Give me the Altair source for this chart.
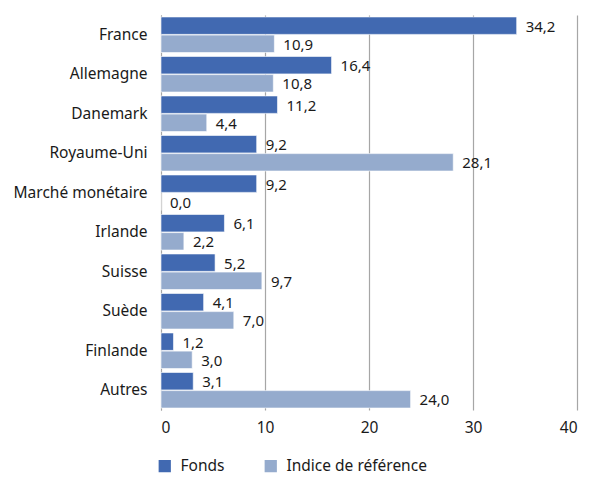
import altair as alt
import pandas as pd

categories = ["France", "Allemagne", "Danemark", "Royaume-Uni", "Marché monétaire",
              "Irlande", "Suisse", "Suède", "Finlande", "Autres"]
fonds = [34.2, 16.4, 11.2, 9.2, 9.2, 6.1, 5.2, 4.1, 1.2, 3.1]
indice = [10.9, 10.8, 4.4, 28.1, 0.0, 2.2, 9.7, 7.0, 3.0, 24.0]
series = ["Fonds", "Indice de référence"]
colors = ["#4169B1", "#95ABCD"]

rows = []
for c, f, i in zip(categories, fonds, indice):
    rows.append({"cat": c, "serie": series[0], "v": f})
    rows.append({"cat": c, "serie": series[1], "v": i})
df = pd.DataFrame(rows)

FONT = "Noto Sans"

y = alt.Y("cat:N", sort=categories, title=None,
          scale=alt.Scale(paddingInner=0.1, paddingOuter=0.05),
          axis=alt.Axis(domain=True, domainColor="#a6a6a6", ticks=False,
                        labelFontSize=15.5, labelColor="#1a1a1a", labelPadding=14,
                        labelFont=FONT))
yoff = alt.YOffset("serie:N", sort=series, scale=alt.Scale(paddingInner=0.04))

base = alt.Chart(df)

bars = base.mark_bar(stroke="white", strokeWidth=0.6).encode(
    x=alt.X("v:Q", scale=alt.Scale(domain=[0, 40]), title=None,
            axis=alt.Axis(values=[0, 10, 20, 30, 40], domain=False, ticks=False,
                          grid=True, gridColor="#a6a6a6", gridWidth=1.2,
                          labelFontSize=15.5, labelColor="#1a1a1a", labelPadding=10,
                          labelFont=FONT)),
    y=y,
    yOffset=yoff,
    color=alt.Color("serie:N", sort=series,
                    scale=alt.Scale(domain=series, range=colors),
                    legend=alt.Legend(title=None, orient="none", direction="horizontal",
                                      legendX=-4, legendY=443, symbolType="square",
                                      symbolSize=150, symbolStrokeWidth=0,
                                      labelFontSize=15.5, labelColor="#1a1a1a",
                                      labelFont=FONT, columnPadding=38, labelOffset=8)),
)

labels = base.mark_text(align="left", baseline="middle", dx=9, dy=1, fontSize=15,
                        color="#1a1a1a", font=FONT).encode(
    x="v:Q",
    y=y,
    yOffset=yoff,
    text="lbl:N",
).transform_calculate(lbl="replace(format(datum.v, '.1f'), '.', ',')")

chart = (bars + labels).properties(
    width=416, height=395,
    padding={"left": 153, "top": 7, "right": 5, "bottom": 66},
    autosize=alt.AutoSizeParams(type="none"),
).configure_view(stroke=None)

chart.save("out.html", embed_options={"renderer": "svg", "actions": False})
